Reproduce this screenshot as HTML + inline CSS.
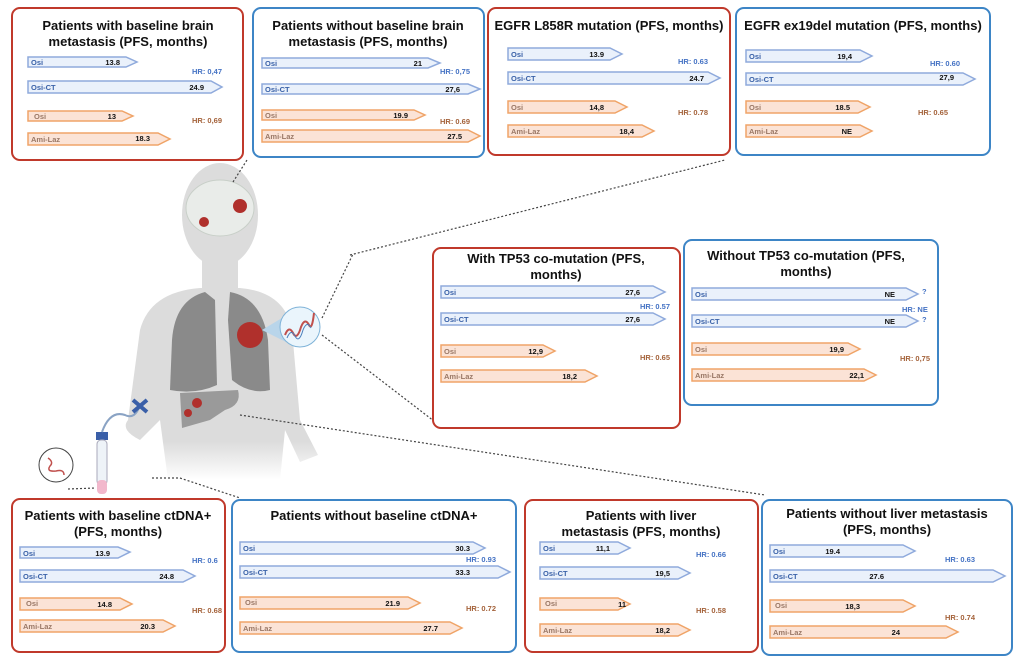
<!DOCTYPE html>
<html><head><meta charset="utf-8"><style>
html,body{margin:0;padding:0;background:#fff;width:1024px;height:662px;overflow:hidden}
svg{display:block;font-family:"Liberation Sans",sans-serif}
.t{font-size:13px;font-weight:bold;fill:#111;text-anchor:middle}
.b{fill:#eaf1fb;stroke:#8faadc;stroke-width:1.5}
.o{fill:#fbe3d6;stroke:#f0a468;stroke-width:1.5}
.lb{font-size:7.5px;font-weight:bold;fill:#3a62a8}
.lo{font-size:7.5px;font-weight:bold;fill:#9a7866}
.v{font-size:7.5px;font-weight:bold;fill:#111;text-anchor:end}
.hb{font-size:7.5px;font-weight:bold;fill:#4472c4}
.ho{font-size:7.5px;font-weight:bold;fill:#a4623a}
.rp{fill:#fff;stroke:#c0392b;stroke-width:2}
.bp{fill:#fff;stroke:#3d85c6;stroke-width:2}
.d{stroke:#444;stroke-width:1.2;stroke-dasharray:2 2;fill:none}
</style></head><body>
<svg width="1024" height="662" viewBox="0 0 1024 662">
<defs><linearGradient id="fade" x1="0" y1="0" x2="0" y2="1"><stop offset="0" stop-color="#dcdcdc"/><stop offset="0.8" stop-color="#dcdcdc"/><stop offset="1" stop-color="#fff"/></linearGradient></defs>
<!-- body -->
<g>
<ellipse cx="220" cy="215" rx="38" ry="52" fill="#dcdcdc"/>
<rect x="202" y="250" width="36" height="45" fill="#dcdcdc"/>
<path d="M128 420 L140 330 Q150 292 200 288 L240 288 Q285 292 292 330 L300 420 L318 455 L300 462 L285 430 L280 480 L168 480 L160 420 L140 440 Q120 430 128 420 Z" fill="url(#fade)"/>
<ellipse cx="220" cy="208" rx="34" ry="28" fill="#e9ece9" stroke="#c8cfc8"/>
<circle cx="240" cy="206" r="7" fill="#b0302c"/>
<circle cx="204" cy="222" r="5" fill="#b0302c"/>
<path d="M205 292 Q175 300 172 340 L170 390 Q195 395 217 385 L215 300 Z" fill="#8a8a8a"/>
<path d="M230 292 Q262 298 268 340 L270 390 Q250 395 232 380 L228 320 Z" fill="#8a8a8a"/>
<circle cx="250" cy="335" r="13" fill="#b0302c"/>
<path d="M180 393 L238 390 Q242 405 225 410 L210 420 L182 428 Z" fill="#9a9a9a"/>
<circle cx="197" cy="403" r="5" fill="#b0302c"/>
<circle cx="188" cy="413" r="4" fill="#b0302c"/>
<polygon points="262,330 292,312 292,345" fill="#b9d5ea"/>
<circle cx="300" cy="327" r="20" fill="#eaf5fc" stroke="#7fb3d8"/>
<path d="M285 335 q4 -10 8 -2 q4 8 8 -6 q4 -10 8 -2 q3 6 5 -12" stroke="#c0504d" stroke-width="2" fill="none"/>
<path d="M287 338 q4 -10 8 -2 q4 8 8 -6 q4 -10 8 -2" stroke="#4a7ebb" stroke-width="1" fill="none"/>
<rect x="96" y="432" width="12" height="8" fill="#3a5fa8"/>
<rect x="97" y="440" width="10" height="45" rx="4" fill="#eef3f8" stroke="#aab"/>
<rect x="97" y="480" width="10" height="14" rx="4" fill="#f2b8cc"/>
<path d="M102 432 Q110 410 125 415 Q135 420 140 405" stroke="#8aa3c4" stroke-width="2" fill="none"/>
<path d="M133 400 L147 412 M133 412 L147 400" stroke="#3a5fa8" stroke-width="4"/>
<circle cx="56" cy="465" r="17" fill="#fff" stroke="#444"/>
<path d="M48 458 q6 4 2 8 q-4 6 6 5 q8 -2 8 4" stroke="#c0504d" stroke-width="1.5" fill="none"/>
</g>
<!-- dashed connectors -->
<path class="d" d="M233 182 L247 160"/>
<path class="d" d="M350 255 L725 160"/>
<path class="d" d="M322 318 L353 254"/>
<path class="d" d="M322 335 L443 428 L460 428"/>
<path class="d" d="M240 415 L765 495"/>
<path class="d" d="M152 478 L180 478 L240 498"/>
<path class="d" d="M68 489 L96 488"/>
<!-- Panel 1 -->
<rect class="rp" x="12" y="8" width="231" height="152" rx="8"/>
<text class="t" x="128" y="30">Patients with baseline brain</text>
<text class="t" x="128" y="46">metastasis (PFS, months)</text>
<polygon class="b" points="28,57 126,57 137,62 126,67 28,67"/><text class="lb" x="31" y="65">Osi</text><text class="v" x="120" y="65">13.8</text>
<polygon class="b" points="28,81 211,81 222,87 211,93 28,93"/><text class="lb" x="31" y="90">Osi-CT</text><text class="v" x="204" y="90">24.9</text>
<text class="hb" x="192" y="74">HR: 0,47</text>
<polygon class="o" points="28,111 122,111 133,116 122,121 28,121"/><text class="lo" x="34" y="119">Osi</text><text class="v" x="116" y="119">13</text>
<polygon class="o" points="28,133 158,133 170,139 158,145 28,145"/><text class="lo" x="31" y="142">Ami-Laz</text><text class="v" x="150" y="141">18.3</text>
<text class="ho" x="192" y="123">HR: 0,69</text>
<!-- Panel 2 -->
<rect class="bp" x="253" y="8" width="231" height="149" rx="8"/>
<text class="t" x="368" y="30">Patients without baseline brain</text>
<text class="t" x="368" y="46">metastasis (PFS, months)</text>
<polygon class="b" points="262,58 428,58 440,63 428,68 262,68"/><text class="lb" x="265" y="66">Osi</text><text class="v" x="422" y="66">21</text>
<text class="hb" x="440" y="74">HR: 0,75</text>
<polygon class="b" points="262,84 468,84 480,89 468,94 262,94"/><text class="lb" x="265" y="92">Osi-CT</text><text class="v" x="460" y="92">27,6</text>
<polygon class="o" points="262,110 414,110 425,115 414,120 262,120"/><text class="lo" x="265" y="118">Osi</text><text class="v" x="408" y="118">19.9</text>
<text class="ho" x="440" y="124">HR: 0.69</text>
<polygon class="o" points="262,130 468,130 480,136 468,142 262,142"/><text class="lo" x="265" y="139">Ami-Laz</text><text class="v" x="462" y="139">27.5</text>
<!-- Panel 3 -->
<rect class="rp" x="488" y="8" width="242" height="147" rx="8"/>
<text class="t" x="609" y="30">EGFR L858R mutation (PFS, months)</text>
<polygon class="b" points="508,48 610,48 622,54 610,60 508,60"/><text class="lb" x="511" y="57">Osi</text><text class="v" x="604" y="57">13.9</text>
<text class="hb" x="678" y="64">HR: 0.63</text>
<polygon class="b" points="508,72 708,72 720,78 708,84 508,84"/><text class="lb" x="511" y="81">Osi-CT</text><text class="v" x="704" y="81">24.7</text>
<polygon class="o" points="508,101 615,101 627,107 615,113 508,113"/><text class="lo" x="511" y="110">Osi</text><text class="v" x="604" y="110">14,8</text>
<text class="ho" x="678" y="115">HR: 0.78</text>
<polygon class="o" points="508,125 642,125 654,131 642,137 508,137"/><text class="lo" x="511" y="134">Ami-Laz</text><text class="v" x="634" y="134">18,4</text>
<!-- Panel 4 -->
<rect class="bp" x="736" y="8" width="254" height="147" rx="8"/>
<text class="t" x="863" y="30">EGFR ex19del mutation (PFS, months)</text>
<polygon class="b" points="746,50 860,50 872,56 860,62 746,62"/><text class="lb" x="749" y="59">Osi</text><text class="v" x="852" y="59">19,4</text>
<text class="hb" x="930" y="66">HR: 0.60</text>
<polygon class="b" points="746,73 963,73 975,79 963,85 746,85"/><text class="lb" x="749" y="82">Osi-CT</text><text class="v" x="954" y="80">27,9</text>
<polygon class="o" points="746,101 858,101 870,107 858,113 746,113"/><text class="lo" x="749" y="110">Osi</text><text class="v" x="850" y="110">18.5</text>
<text class="ho" x="918" y="115">HR: 0.65</text>
<polygon class="o" points="746,125 860,125 872,131 860,137 746,137"/><text class="lo" x="749" y="134">Ami-Laz</text><text class="v" x="852" y="134">NE</text>
<!-- Panel 5 -->
<rect class="rp" x="433" y="248" width="247" height="180" rx="8"/>
<text class="t" x="556" y="263">With TP53 co-mutation (PFS,</text>
<text class="t" x="556" y="279">months)</text>
<polygon class="b" points="441,286 653,286 665,292 653,298 441,298"/><text class="lb" x="444" y="295">Osi</text><text class="v" x="640" y="295">27,6</text>
<text class="hb" x="640" y="309">HR: 0.57</text>
<polygon class="b" points="441,313 653,313 665,319 653,325 441,325"/><text class="lb" x="444" y="322">Osi-CT</text><text class="v" x="640" y="322">27,6</text>
<polygon class="o" points="441,345 543,345 555,351 543,357 441,357"/><text class="lo" x="444" y="354">Osi</text><text class="v" x="543" y="354">12,9</text>
<text class="ho" x="640" y="360">HR: 0.65</text>
<polygon class="o" points="441,370 585,370 597,376 585,382 441,382"/><text class="lo" x="444" y="379">Ami-Laz</text><text class="v" x="577" y="379">18,2</text>
<!-- Panel 6 -->
<rect class="bp" x="684" y="240" width="254" height="165" rx="8"/>
<text class="t" x="806" y="260">Without TP53 co-mutation (PFS,</text>
<text class="t" x="806" y="276">months)</text>
<polygon class="b" points="692,288 906,288 918,294 906,300 692,300"/><text class="lb" x="695" y="297">Osi</text><text class="v" x="895" y="297">NE</text>
<text class="hb" x="922" y="294">?</text>
<text class="hb" x="902" y="312">HR: NE</text>
<polygon class="b" points="692,315 906,315 918,321 906,327 692,327"/><text class="lb" x="695" y="324">Osi-CT</text><text class="v" x="895" y="324">NE</text>
<text class="hb" x="922" y="322">?</text>
<polygon class="o" points="692,343 848,343 860,349 848,355 692,355"/><text class="lo" x="695" y="352">Osi</text><text class="v" x="844" y="352">19,9</text>
<text class="ho" x="900" y="361">HR: 0,75</text>
<polygon class="o" points="692,369 864,369 876,375 864,381 692,381"/><text class="lo" x="695" y="378">Ami-Laz</text><text class="v" x="864" y="378">22,1</text>
<!-- Panel 7 -->
<rect class="rp" x="12" y="499" width="213" height="153" rx="8"/>
<text class="t" x="118" y="520">Patients with baseline ctDNA+</text>
<text class="t" x="118" y="536">(PFS, months)</text>
<polygon class="b" points="20,547 118,547 130,552 118,558 20,558"/><text class="lb" x="23" y="556">Osi</text><text class="v" x="110" y="556">13.9</text>
<text class="hb" x="192" y="563">HR: 0.6</text>
<polygon class="b" points="20,570 183,570 195,576 183,582 20,582"/><text class="lb" x="23" y="579">Osi-CT</text><text class="v" x="174" y="579">24.8</text>
<polygon class="o" points="20,598 120,598 132,604 120,610 20,610"/><text class="lo" x="26" y="606">Osi</text><text class="v" x="112" y="607">14.8</text>
<text class="ho" x="192" y="613">HR: 0.68</text>
<polygon class="o" points="20,620 163,620 175,626 163,632 20,632"/><text class="lo" x="23" y="629">Ami-Laz</text><text class="v" x="155" y="629">20.3</text>
<!-- Panel 8 -->
<rect class="bp" x="232" y="500" width="284" height="152" rx="8"/>
<text class="t" x="374" y="520">Patients without baseline ctDNA+</text>
<polygon class="b" points="240,542 473,542 485,548 473,554 240,554"/><text class="lb" x="243" y="551">Osi</text><text class="v" x="470" y="551">30.3</text>
<text class="hb" x="466" y="562">HR: 0.93</text>
<polygon class="b" points="240,566 498,566 510,572 498,578 240,578"/><text class="lb" x="243" y="575">Osi-CT</text><text class="v" x="470" y="575">33.3</text>
<polygon class="o" points="240,597 408,597 420,603 408,609 240,609"/><text class="lo" x="245" y="605">Osi</text><text class="v" x="400" y="606">21.9</text>
<text class="ho" x="466" y="611">HR: 0.72</text>
<polygon class="o" points="240,622 450,622 462,628 450,634 240,634"/><text class="lo" x="243" y="631">Ami-Laz</text><text class="v" x="438" y="631">27.7</text>
<!-- Panel 9 -->
<rect class="rp" x="525" y="500" width="233" height="152" rx="8"/>
<text class="t" x="641" y="520">Patients with liver</text>
<text class="t" x="641" y="536">metastasis (PFS, months)</text>
<polygon class="b" points="540,542 618,542 630,548 618,554 540,554"/><text class="lb" x="543" y="551">Osi</text><text class="v" x="610" y="551">11,1</text>
<text class="hb" x="696" y="557">HR: 0.66</text>
<polygon class="b" points="540,567 678,567 690,573 678,579 540,579"/><text class="lb" x="543" y="576">Osi-CT</text><text class="v" x="670" y="576">19,5</text>
<polygon class="o" points="540,598 618,598 630,604 618,610 540,610"/><text class="lo" x="545" y="606">Osi</text><text class="v" x="626" y="607">11</text>
<text class="ho" x="696" y="613">HR: 0.58</text>
<polygon class="o" points="540,624 678,624 690,630 678,636 540,636"/><text class="lo" x="543" y="633">Ami-Laz</text><text class="v" x="670" y="633">18,2</text>
<!-- Panel 10 -->
<rect class="bp" x="762" y="500" width="250" height="155" rx="8"/>
<text class="t" x="887" y="518">Patients without liver metastasis</text>
<text class="t" x="887" y="534">(PFS, months)</text>
<polygon class="b" points="770,545 903,545 915,551 903,557 770,557"/><text class="lb" x="773" y="554">Osi</text><text class="v" x="840" y="554">19.4</text>
<text class="hb" x="945" y="562">HR: 0.63</text>
<polygon class="b" points="770,570 993,570 1005,576 993,582 770,582"/><text class="lb" x="773" y="579">Osi-CT</text><text class="v" x="884" y="579">27.6</text>
<polygon class="o" points="770,600 903,600 915,606 903,612 770,612"/><text class="lo" x="775" y="608">Osi</text><text class="v" x="860" y="609">18,3</text>
<text class="ho" x="945" y="620">HR: 0.74</text>
<polygon class="o" points="770,626 946,626 958,632 946,638 770,638"/><text class="lo" x="773" y="635">Ami-Laz</text><text class="v" x="900" y="635">24</text>
</svg>
</body></html>
